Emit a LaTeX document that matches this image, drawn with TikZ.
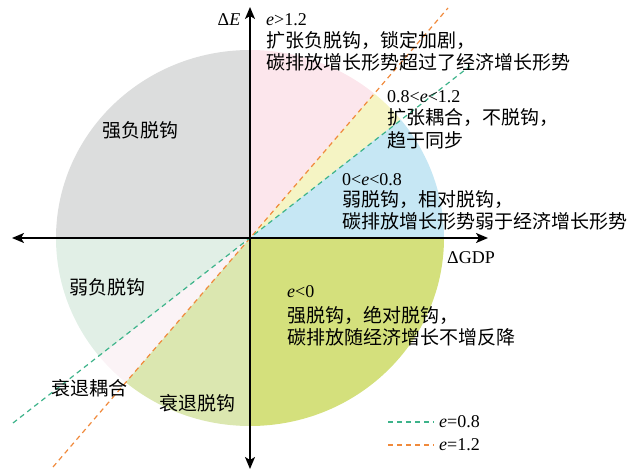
\documentclass[tikz,border=0pt]{standalone}
\usepackage{fontspec}
\setmainfont{Liberation Serif}
\newfontfamily\cjk{Noto Sans CJK SC}
\usetikzlibrary{arrows.meta,calc}
\definecolor{cgray}{HTML}{DCDDDD}
\definecolor{cpink}{HTML}{FCE6EC}
\definecolor{cyellow}{HTML}{F5F4C4}
\definecolor{cblue}{HTML}{C6E7F4}
\definecolor{colive}{HTML}{D4E07C}
\definecolor{cmint}{HTML}{E1EFE6}
\definecolor{cpale}{HTML}{FBF3F6}
\definecolor{clight}{HTML}{DBE7B0}
\definecolor{corange}{HTML}{F08A3C}
\definecolor{cgreen}{HTML}{3DB38A}
\tikzset{
  zh/.style={font=\cjk\fontsize{19}{21}\selectfont, inner sep=0pt, anchor=west},
  zhc/.style={font=\cjk\fontsize{19}{21}\selectfont, inner sep=0pt},
  num/.style={font=\fontsize{18}{20}\selectfont, inner sep=0pt, anchor=west},
  axis/.style={line width=1.6pt, -{Stealth[length=12pt,width=10pt,inset=3pt]}},
  dline/.style={line width=1.2pt, dash pattern=on 5pt off 4pt}
}
\begin{document}
\begin{tikzpicture}[x=1pt,y=1pt]
\useasboundingbox (0,0) rectangle (630,471);
\coordinate (C) at (250,233);
% sectors
\begin{scope}
\clip (C) ellipse [x radius=194, y radius=188];
\fill[cgray]   (C) -- ($(C)+(90:400)$) -- ($(C)+(135:400)$) -- ($(C)+(180:400)$) -- cycle;
\fill[cpink]   (C) -- ($(C)+(90:400)$) -- ($(C)+(49.3:400)$) -- cycle;
\fill[cyellow] (C) -- ($(C)+(49.3:400)$) -- ($(C)+(38.2:400)$) -- cycle;
\fill[cblue]   (C) -- ($(C)+(38.2:400)$) -- ($(C)+(0:400)$) -- cycle;
\fill[colive]  (C) -- ($(C)+(270:400)$) -- ($(C)+(315:400)$) -- ($(C)+(360:400)$) -- cycle;
\fill[cmint]   (C) -- ($(C)+(180:400)$) -- ($(C)+(218.2:400)$) -- cycle;
\fill[cpale]   (C) -- ($(C)+(218.2:400)$) -- ($(C)+(229.3:400)$) -- cycle;
\fill[clight]  (C) -- ($(C)+(229.3:400)$) -- ($(C)+(270:400)$) -- cycle;
\end{scope}
% dashed lines
\coordinate (o1) at (53,4);
\coordinate (o2) at (448,463);
\coordinate (g1) at (13,48);
\coordinate (g2) at (470,405);
\draw[dline, corange] (o1) -- (o2);
\draw[dline, cgreen] (g1) -- (g2);
% axes
\coordinate (xl) at (12,233);
\coordinate (xr) at (488,233);
\coordinate (yb) at (250,2);
\coordinate (yt) at (250,464);
\draw[axis] (C) -- (xr);
\draw[axis] (C) -- (xl);
\draw[axis] (C) -- (yt);
\draw[axis] (C) -- (yb);
% axis labels
\node[num, anchor=center] (dE) at (229,451) {Δ\textit{E}};
\node[num] (dGDP) at (447,213) {ΔGDP};
% quadrant text
\node[num] (t1a) at (266,451) {\textit{e}>1.2};
\node[zh] (t1b) at (266,431) {扩张负脱钩，锁定加剧，};
\node[zh] (t1c) at (266,409) {碳排放增长形势超过了经济增长形势};
\node[num] (t2a) at (387,374) {0.8<\textit{e}<1.2};
\node[zh] (t2b) at (387,353) {扩张耦合，不脱钩，};
\node[zh] (t2c) at (387,331) {趋于同步};
\node[num] (t3a) at (342,291) {0<\textit{e}<0.8};
\node[zh] (t3b) at (342,271) {弱脱钩，相对脱钩，};
\node[zh] (t3c) at (342,250) {碳排放增长形势弱于经济增长形势};
\node[num] (t4a) at (287,179) {\textit{e}<0};
\node[zh] (t4b) at (287,156) {强脱钩，绝对脱钩，};
\node[zh] (t4c) at (287,134) {碳排放随经济增长不增反降};
\node[zhc] (q1) at (140,341) {强负脱钩};
\node[zhc] (q2) at (107,184) {弱负脱钩};
\node[zhc] (q3) at (90,83) {衰退耦合};
\node[zhc] (q4) at (197,68) {衰退脱钩};
% legend
\coordinate (lg1) at (388,49);
\coordinate (lg2) at (434,49);
\coordinate (lo1) at (388,26);
\coordinate (lo2) at (434,26);
\draw[dline, cgreen] (lg1) -- (lg2);
\draw[dline, corange] (lo1) -- (lo2);
\node[num] (lgt) at (439,49) {\textit{e}=0.8};
\node[num] (lot) at (439,26) {\textit{e}=1.2};
\end{tikzpicture}
\end{document}
